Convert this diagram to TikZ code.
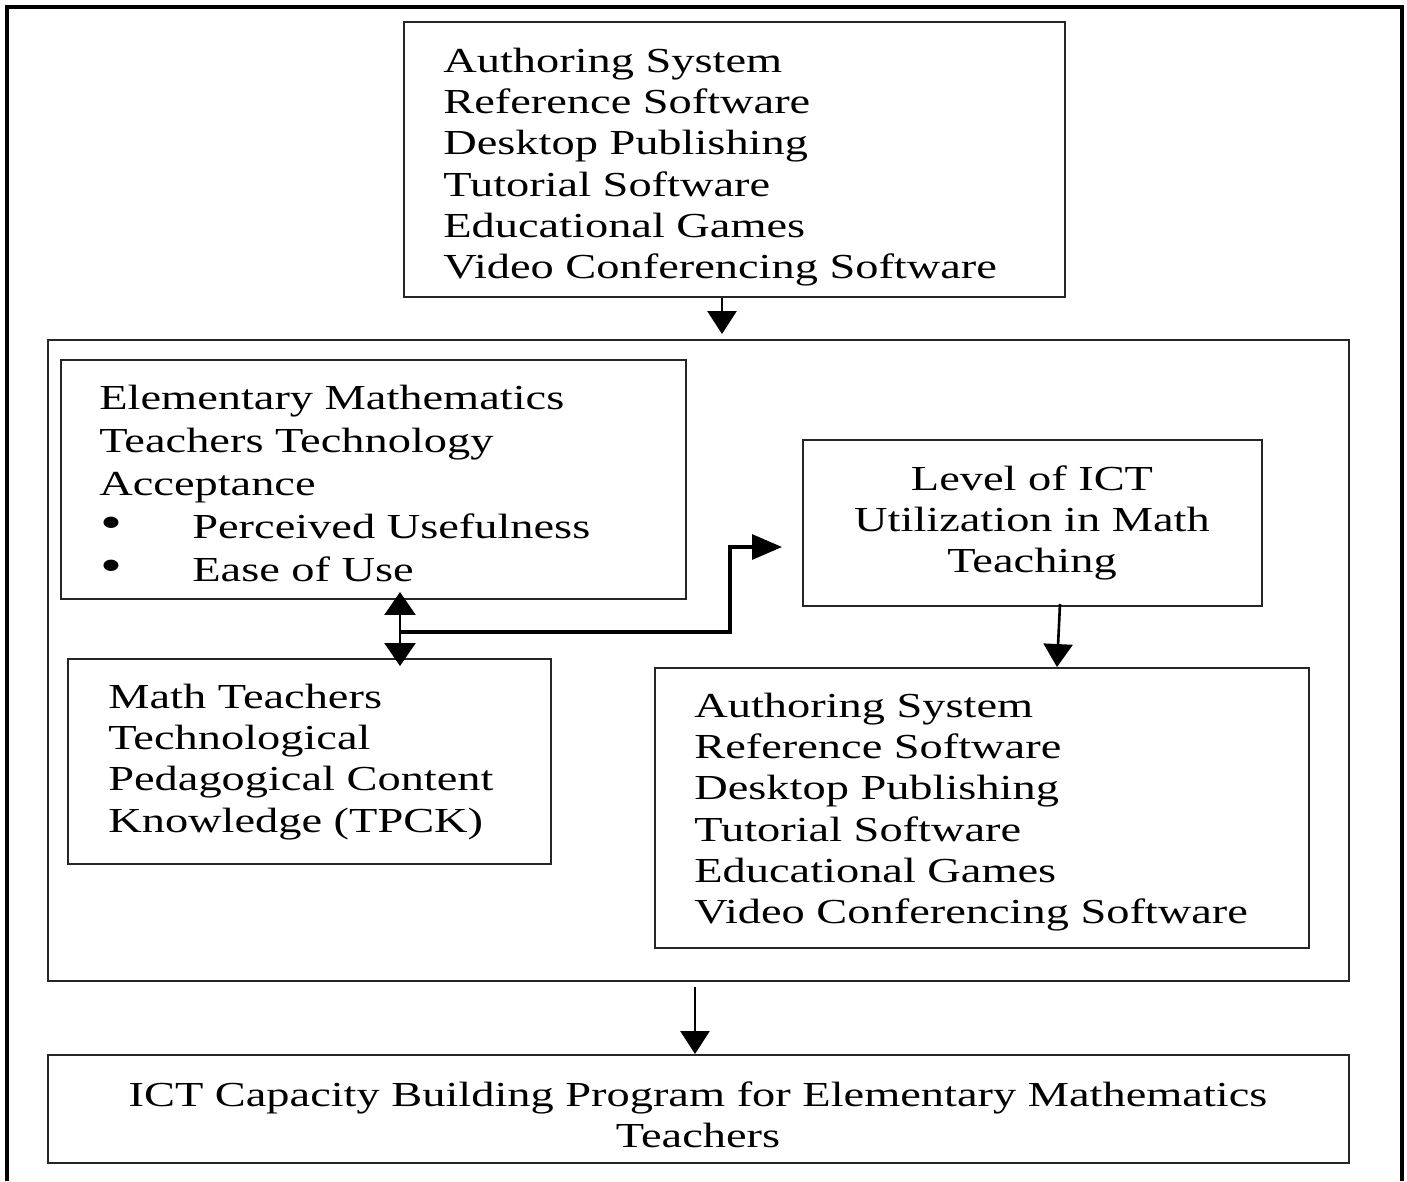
\documentclass[tikz,border=0pt]{standalone}
\usepackage{fontspec}
\setmainfont[FakeStretch=1.32]{Liberation Serif}
\usetikzlibrary{fit,arrows.meta,calc}
\begin{document}
\begin{tikzpicture}[x=0.02cm,y=-0.02cm,
  box/.style={draw=black!85, line width=1.1pt, inner sep=0pt, fit={#1}},
  txt/.style={inner sep=0pt, align=left, anchor=north west,
    font=\fontsize{20}{23.4}\selectfont},
  ctxt/.style={txt, align=center, anchor=north},
  conn/.style={line width=1.5pt, -{Triangle[length=0.46cm,width=0.58cm]}},
]
\useasboundingbox (0,0) rectangle (1407,1181);

% page frame (open at the bottom)
\draw[line width=1.8pt] (7,1181) -- (7,7) -- (1402,7) -- (1402,1181);

% boxes
\node[box={(404,22) (1065,297)}]   (top)  {};
\node[box={(48,340) (1349,981)}]   (main) {};
\node[box={(61,360) (686,599)}]    (emt)  {};
\node[box={(803,440) (1262,606)}]  (lvl)  {};
\node[box={(68,659) (551,864)}]    (tpck) {};
\node[box={(655,668) (1309,948)}]  (list) {};
\node[box={(48,1055) (1349,1163)}] (bot)  {};

% texts
\newcommand{\bul}{\makebox[1.86cm][l]{\hspace{0.03cm}\scalebox{1.35}{\textbullet}}}
\node[txt] (toptxt) at (443,48) {Authoring System\\Reference Software\\Desktop Publishing\\Tutorial Software\\Educational Games\\Video Conferencing Software};
\node[txt, font=\fontsize{20}{24.5}\selectfont] (emttxt) at (99,385) {Elementary Mathematics\\Teachers Technology\\Acceptance\\\bul Perceived Usefulness\\\bul Ease of Use};
\node[ctxt] (lvltxt) at (1032,465) {Level of ICT\\Utilization in Math\\Teaching};
\node[txt] (tpcktxt) at (108,684) {Math Teachers\\Technological\\Pedagogical Content\\Knowledge (TPCK)};
\node[txt] (listtxt) at (694,693) {Authoring System\\Reference Software\\Desktop Publishing\\Tutorial Software\\Educational Games\\Video Conferencing Software};
\node[ctxt] (bottxt) at (698,1081) {ICT Capacity Building Program for Elementary Mathematics\\Teachers};

% connectors
\coordinate (xa) at (722,0);
\coordinate (xb) at (400,0);
\coordinate (xc) at (1060,0);
\coordinate (xd) at (1057,0);
\coordinate (xe) at (695,0);
\coordinate (jn) at (400,632);
\coordinate (bend) at (730,547);

\draw[conn] (top.south -| xa) -- ($(main.north -| xa)+(0,-5)$);
\draw[line width=1.3pt, {Triangle[length=0.46cm,width=0.62cm]}-{Triangle[length=0.46cm,width=0.62cm]}]
  ($(emt.south -| xb)+(0,-8)$) -- ($(tpck.north -| xb)+(0,8)$);
\draw[conn, line width=1.8pt, -{Triangle[length=0.6cm,width=0.5cm]}] (jn) -| (bend) -- ($(lvl.west |- bend)+(-20,0)$);
\draw[conn] ($(lvl.south -| xc)+(0,-3)$) -- (list.north -| xd);
\draw[conn] ($(main.south -| xe)+(0,5)$) -- (bot.north -| xe);
\end{tikzpicture}
\end{document}
